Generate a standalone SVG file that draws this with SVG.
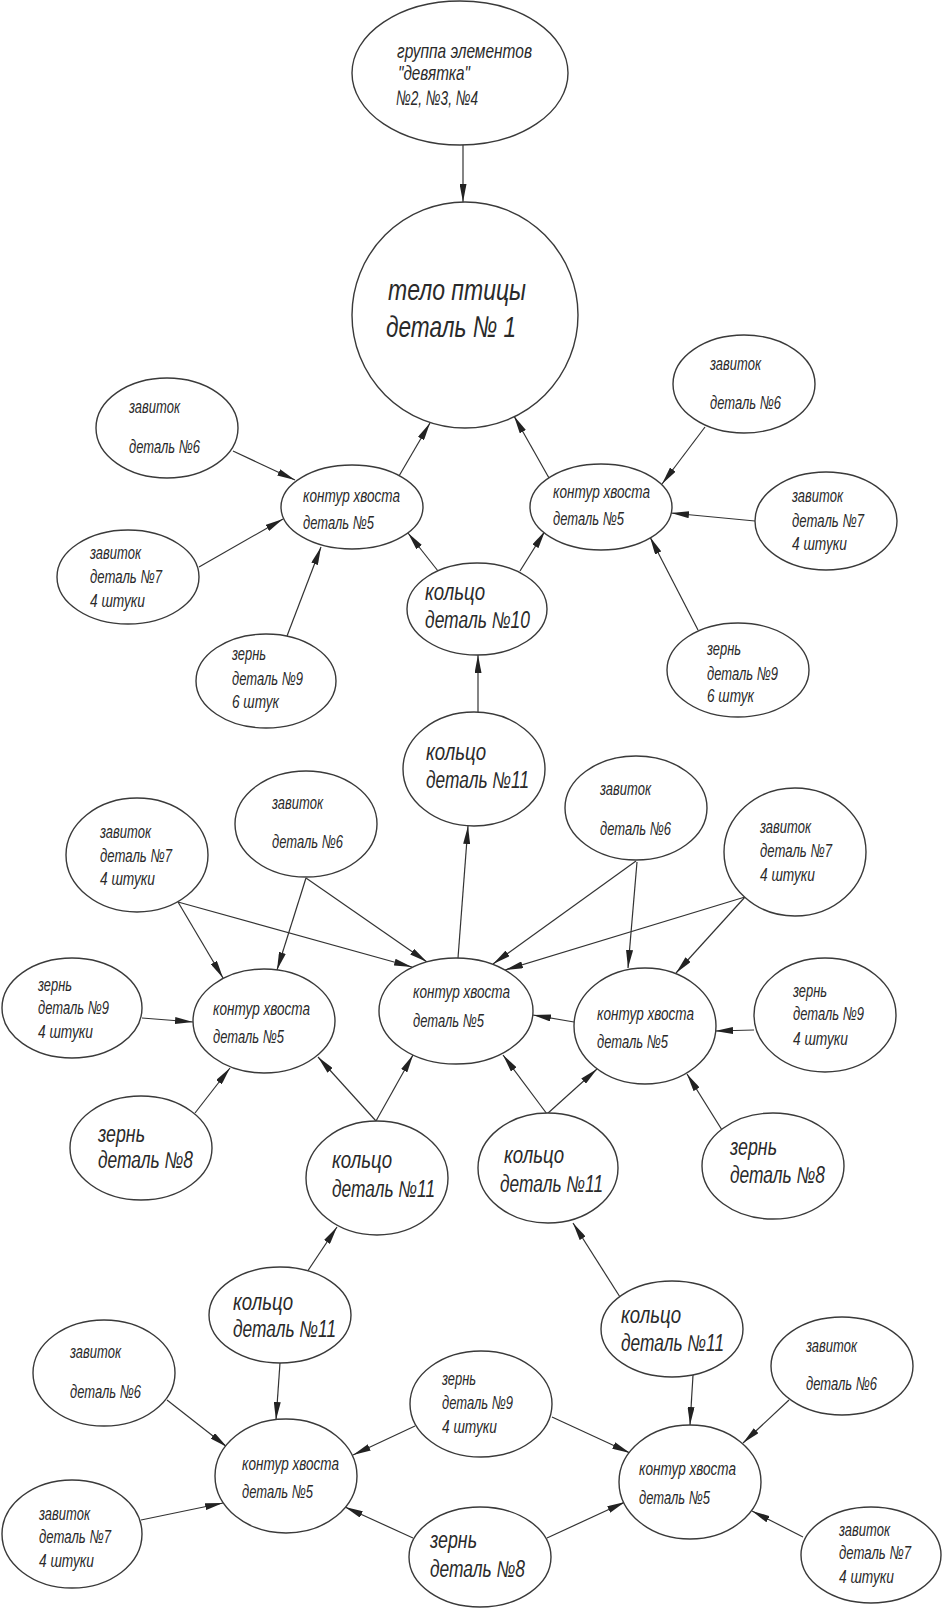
<svg xmlns="http://www.w3.org/2000/svg" width="942" height="1610" viewBox="0 0 942 1610">
<defs>
<marker id="arr" viewBox="0 0 18 7" refX="18" refY="3.5" markerWidth="18" markerHeight="7" markerUnits="userSpaceOnUse" orient="auto">
<path d="M0,0 L18,3.5 L0,7 Z" fill="#222"/>
</marker>
<style>
.n ellipse,.n circle{fill:#fff;stroke:#3a3a3a;stroke-width:1.4}
.n text{font-family:"Liberation Sans","DejaVu Sans",sans-serif;font-style:italic;fill:#2a2a2a}
.s{font-size:19px}
.l{font-size:23px}
.t{font-size:21px}
.b{font-size:30px}
#edges line{stroke:#333;stroke-width:1.2;marker-end:url(#arr)}
</style>
</defs>
<rect width="942" height="1610" fill="#fff"/>
<g id="edges">
<line x1="463" y1="145" x2="463" y2="202"/>
<line x1="233" y1="451" x2="295" y2="480"/>
<line x1="199" y1="567" x2="283" y2="519"/>
<line x1="287" y1="636" x2="321" y2="547"/>
<line x1="399" y1="476" x2="430" y2="423"/>
<line x1="438" y1="571" x2="408" y2="533"/>
<line x1="520" y1="571" x2="545" y2="531"/>
<line x1="549" y1="478" x2="514" y2="416"/>
<line x1="705" y1="427" x2="662" y2="484"/>
<line x1="755" y1="521" x2="671" y2="513"/>
<line x1="698" y1="630" x2="650" y2="537"/>
<line x1="478" y1="712" x2="478" y2="655"/>
<line x1="458" y1="958" x2="468" y2="826"/>
<line x1="178" y1="902" x2="223" y2="978"/>
<line x1="178" y1="902" x2="412" y2="967"/>
<line x1="306" y1="878" x2="277" y2="970"/>
<line x1="306" y1="878" x2="427" y2="962"/>
<line x1="142" y1="1018" x2="193" y2="1022"/>
<line x1="195" y1="1113" x2="230" y2="1068"/>
<line x1="376" y1="1121" x2="318" y2="1057"/>
<line x1="376" y1="1121" x2="413" y2="1055"/>
<line x1="636" y1="861" x2="493" y2="964"/>
<line x1="637" y1="862" x2="628" y2="968"/>
<line x1="745" y1="897" x2="505" y2="970"/>
<line x1="745" y1="897" x2="676" y2="973"/>
<line x1="574" y1="1022" x2="533" y2="1015"/>
<line x1="754" y1="1030" x2="715" y2="1031"/>
<line x1="547" y1="1114" x2="503" y2="1055"/>
<line x1="547" y1="1114" x2="597" y2="1069"/>
<line x1="722" y1="1130" x2="687" y2="1074"/>
<line x1="307" y1="1272" x2="337" y2="1227"/>
<line x1="280" y1="1363" x2="276" y2="1420"/>
<line x1="167" y1="1400" x2="227" y2="1447"/>
<line x1="141" y1="1520" x2="223" y2="1503"/>
<line x1="415" y1="1426" x2="353" y2="1455"/>
<line x1="413" y1="1538" x2="345" y2="1507"/>
<line x1="620" y1="1297" x2="573" y2="1223"/>
<line x1="693" y1="1375" x2="690" y2="1425"/>
<line x1="789" y1="1400" x2="743" y2="1443"/>
<line x1="803" y1="1537" x2="752" y2="1511"/>
<line x1="552" y1="1417" x2="630" y2="1453"/>
<line x1="547" y1="1538" x2="625" y2="1502"/>
</g>

<g id="n1" class="n"><ellipse cx="460" cy="73" rx="108" ry="72"/>
<text class="t" x="397" y="58" textLength="135" lengthAdjust="spacingAndGlyphs">группа элементов</text>
<text class="t" x="398" y="80" textLength="72" lengthAdjust="spacingAndGlyphs">"девятка"</text>
<text class="t" x="396" y="105" textLength="82" lengthAdjust="spacingAndGlyphs">№2, №3, №4</text></g>

<g id="n2" class="n"><circle cx="465" cy="315" r="113"/>
<text class="b" x="388" y="300" textLength="138" lengthAdjust="spacingAndGlyphs">тело птицы</text>
<text class="b" x="386" y="337" textLength="130" lengthAdjust="spacingAndGlyphs">деталь № 1</text></g>

<g id="n3" class="n"><ellipse cx="167" cy="428" rx="71" ry="50"/>
<text class="s" x="129" y="413" textLength="51" lengthAdjust="spacingAndGlyphs">завиток</text>
<text class="s" x="129" y="453" textLength="71" lengthAdjust="spacingAndGlyphs">деталь №6</text></g>

<g id="n4" class="n"><ellipse cx="352" cy="507" rx="71" ry="42"/>
<text class="s" x="303" y="502" textLength="97" lengthAdjust="spacingAndGlyphs">контур хвоста</text>
<text class="s" x="303" y="529" textLength="71" lengthAdjust="spacingAndGlyphs">деталь №5</text></g>

<g id="n5" class="n"><ellipse cx="128" cy="577" rx="71" ry="47"/>
<text class="s" x="90" y="559" textLength="51" lengthAdjust="spacingAndGlyphs">завиток</text>
<text class="s" x="90" y="583" textLength="72" lengthAdjust="spacingAndGlyphs">деталь №7</text>
<text class="s" x="90" y="607" textLength="55" lengthAdjust="spacingAndGlyphs">4 штуки</text></g>

<g id="n6" class="n"><ellipse cx="266" cy="681" rx="70" ry="47"/>
<text class="s" x="232" y="660" textLength="34" lengthAdjust="spacingAndGlyphs">зернь</text>
<text class="s" x="232" y="685" textLength="71" lengthAdjust="spacingAndGlyphs">деталь №9</text>
<text class="s" x="232" y="708" textLength="47" lengthAdjust="spacingAndGlyphs">6 штук</text></g>

<g id="n7" class="n"><ellipse cx="477" cy="609" rx="70" ry="46"/>
<text class="l" x="425" y="600" textLength="60" lengthAdjust="spacingAndGlyphs">кольцо</text>
<text class="l" x="425" y="628" textLength="105" lengthAdjust="spacingAndGlyphs">деталь №10</text></g>

<g id="n8" class="n"><ellipse cx="744" cy="384" rx="71" ry="49"/>
<text class="s" x="710" y="370" textLength="51" lengthAdjust="spacingAndGlyphs">завиток</text>
<text class="s" x="710" y="409" textLength="71" lengthAdjust="spacingAndGlyphs">деталь №6</text></g>

<g id="n9" class="n"><ellipse cx="601" cy="507" rx="71" ry="43"/>
<text class="s" x="553" y="498" textLength="97" lengthAdjust="spacingAndGlyphs">контур хвоста</text>
<text class="s" x="553" y="525" textLength="71" lengthAdjust="spacingAndGlyphs">деталь №5</text></g>

<g id="n10" class="n"><ellipse cx="826" cy="521" rx="71" ry="49"/>
<text class="s" x="792" y="502" textLength="51" lengthAdjust="spacingAndGlyphs">завиток</text>
<text class="s" x="792" y="527" textLength="72" lengthAdjust="spacingAndGlyphs">деталь №7</text>
<text class="s" x="792" y="550" textLength="55" lengthAdjust="spacingAndGlyphs">4 штуки</text></g>

<g id="n11" class="n"><ellipse cx="738" cy="670" rx="71" ry="47"/>
<text class="s" x="707" y="655" textLength="34" lengthAdjust="spacingAndGlyphs">зернь</text>
<text class="s" x="707" y="680" textLength="71" lengthAdjust="spacingAndGlyphs">деталь №9</text>
<text class="s" x="707" y="702" textLength="47" lengthAdjust="spacingAndGlyphs">6 штук</text></g>

<g id="n12" class="n"><ellipse cx="474" cy="769" rx="71" ry="57"/>
<text class="l" x="426" y="760" textLength="60" lengthAdjust="spacingAndGlyphs">кольцо</text>
<text class="l" x="426" y="788" textLength="103" lengthAdjust="spacingAndGlyphs">деталь №11</text></g>

<g id="n13" class="n"><ellipse cx="137" cy="855" rx="71" ry="57"/>
<text class="s" x="100" y="838" textLength="51" lengthAdjust="spacingAndGlyphs">завиток</text>
<text class="s" x="100" y="862" textLength="72" lengthAdjust="spacingAndGlyphs">деталь №7</text>
<text class="s" x="100" y="885" textLength="55" lengthAdjust="spacingAndGlyphs">4 штуки</text></g>

<g id="n14" class="n"><ellipse cx="306" cy="824" rx="71" ry="53"/>
<text class="s" x="272" y="809" textLength="51" lengthAdjust="spacingAndGlyphs">завиток</text>
<text class="s" x="272" y="848" textLength="71" lengthAdjust="spacingAndGlyphs">деталь №6</text></g>

<g id="n15" class="n"><ellipse cx="72" cy="1008" rx="70" ry="50"/>
<text class="s" x="38" y="991" textLength="34" lengthAdjust="spacingAndGlyphs">зернь</text>
<text class="s" x="38" y="1014" textLength="71" lengthAdjust="spacingAndGlyphs">деталь №9</text>
<text class="s" x="38" y="1038" textLength="55" lengthAdjust="spacingAndGlyphs">4 штуки</text></g>

<g id="n16" class="n"><ellipse cx="264" cy="1021" rx="71" ry="52"/>
<text class="s" x="213" y="1015" textLength="97" lengthAdjust="spacingAndGlyphs">контур хвоста</text>
<text class="s" x="213" y="1043" textLength="71" lengthAdjust="spacingAndGlyphs">деталь №5</text></g>

<g id="n17" class="n"><ellipse cx="141" cy="1148" rx="71" ry="52"/>
<text class="l" x="98" y="1142" textLength="47" lengthAdjust="spacingAndGlyphs">зернь</text>
<text class="l" x="98" y="1168" textLength="95" lengthAdjust="spacingAndGlyphs">деталь №8</text></g>

<g id="n18" class="n"><ellipse cx="456" cy="1011" rx="77" ry="53"/>
<text class="s" x="413" y="998" textLength="97" lengthAdjust="spacingAndGlyphs">контур хвоста</text>
<text class="s" x="413" y="1027" textLength="71" lengthAdjust="spacingAndGlyphs">деталь №5</text></g>

<g id="n19" class="n"><ellipse cx="377" cy="1178" rx="71" ry="57"/>
<text class="l" x="332" y="1168" textLength="60" lengthAdjust="spacingAndGlyphs">кольцо</text>
<text class="l" x="332" y="1197" textLength="103" lengthAdjust="spacingAndGlyphs">деталь №11</text></g>

<g id="n20" class="n"><ellipse cx="636" cy="808" rx="71" ry="52"/>
<text class="s" x="600" y="795" textLength="51" lengthAdjust="spacingAndGlyphs">завиток</text>
<text class="s" x="600" y="835" textLength="71" lengthAdjust="spacingAndGlyphs">деталь №6</text></g>

<g id="n21" class="n"><ellipse cx="795" cy="852" rx="71" ry="64"/>
<text class="s" x="760" y="833" textLength="51" lengthAdjust="spacingAndGlyphs">завиток</text>
<text class="s" x="760" y="857" textLength="72" lengthAdjust="spacingAndGlyphs">деталь №7</text>
<text class="s" x="760" y="881" textLength="55" lengthAdjust="spacingAndGlyphs">4 штуки</text></g>

<g id="n22" class="n"><ellipse cx="645" cy="1026" rx="71" ry="58"/>
<text class="s" x="597" y="1020" textLength="97" lengthAdjust="spacingAndGlyphs">контур хвоста</text>
<text class="s" x="597" y="1048" textLength="71" lengthAdjust="spacingAndGlyphs">деталь №5</text></g>

<g id="n23" class="n"><ellipse cx="825" cy="1015" rx="71" ry="57"/>
<text class="s" x="793" y="997" textLength="34" lengthAdjust="spacingAndGlyphs">зернь</text>
<text class="s" x="793" y="1020" textLength="71" lengthAdjust="spacingAndGlyphs">деталь №9</text>
<text class="s" x="793" y="1045" textLength="55" lengthAdjust="spacingAndGlyphs">4 штуки</text></g>

<g id="n24" class="n"><ellipse cx="548" cy="1168" rx="70" ry="55"/>
<text class="l" x="504" y="1163" textLength="60" lengthAdjust="spacingAndGlyphs">кольцо</text>
<text class="l" x="500" y="1192" textLength="103" lengthAdjust="spacingAndGlyphs">деталь №11</text></g>

<g id="n25" class="n"><ellipse cx="773" cy="1166" rx="71" ry="53"/>
<text class="l" x="730" y="1155" textLength="47" lengthAdjust="spacingAndGlyphs">зернь</text>
<text class="l" x="730" y="1183" textLength="95" lengthAdjust="spacingAndGlyphs">деталь №8</text></g>

<g id="n26" class="n"><ellipse cx="280" cy="1315" rx="71" ry="48"/>
<text class="l" x="233" y="1310" textLength="60" lengthAdjust="spacingAndGlyphs">кольцо</text>
<text class="l" x="233" y="1337" textLength="103" lengthAdjust="spacingAndGlyphs">деталь №11</text></g>

<g id="n27" class="n"><ellipse cx="104" cy="1373" rx="71" ry="53"/>
<text class="s" x="70" y="1358" textLength="51" lengthAdjust="spacingAndGlyphs">завиток</text>
<text class="s" x="70" y="1398" textLength="71" lengthAdjust="spacingAndGlyphs">деталь №6</text></g>

<g id="n28" class="n"><ellipse cx="286" cy="1476" rx="71" ry="57"/>
<text class="s" x="242" y="1470" textLength="97" lengthAdjust="spacingAndGlyphs">контур хвоста</text>
<text class="s" x="242" y="1498" textLength="71" lengthAdjust="spacingAndGlyphs">деталь №5</text></g>

<g id="n29" class="n"><ellipse cx="72" cy="1534" rx="70" ry="54"/>
<text class="s" x="39" y="1520" textLength="51" lengthAdjust="spacingAndGlyphs">завиток</text>
<text class="s" x="39" y="1543" textLength="72" lengthAdjust="spacingAndGlyphs">деталь №7</text>
<text class="s" x="39" y="1567" textLength="55" lengthAdjust="spacingAndGlyphs">4 штуки</text></g>

<g id="n30" class="n"><ellipse cx="481" cy="1404" rx="71" ry="53"/>
<text class="s" x="442" y="1385" textLength="34" lengthAdjust="spacingAndGlyphs">зернь</text>
<text class="s" x="442" y="1409" textLength="71" lengthAdjust="spacingAndGlyphs">деталь №9</text>
<text class="s" x="442" y="1433" textLength="55" lengthAdjust="spacingAndGlyphs">4 штуки</text></g>

<g id="n31" class="n"><ellipse cx="480" cy="1557" rx="71" ry="50"/>
<text class="l" x="430" y="1548" textLength="47" lengthAdjust="spacingAndGlyphs">зернь</text>
<text class="l" x="430" y="1577" textLength="95" lengthAdjust="spacingAndGlyphs">деталь №8</text></g>

<g id="n32" class="n"><ellipse cx="672" cy="1329" rx="71" ry="48"/>
<text class="l" x="621" y="1323" textLength="60" lengthAdjust="spacingAndGlyphs">кольцо</text>
<text class="l" x="621" y="1351" textLength="103" lengthAdjust="spacingAndGlyphs">деталь №11</text></g>

<g id="n33" class="n"><ellipse cx="842" cy="1366" rx="71" ry="49"/>
<text class="s" x="806" y="1352" textLength="51" lengthAdjust="spacingAndGlyphs">завиток</text>
<text class="s" x="806" y="1390" textLength="71" lengthAdjust="spacingAndGlyphs">деталь №6</text></g>

<g id="n34" class="n"><ellipse cx="690" cy="1482" rx="71" ry="57"/>
<text class="s" x="639" y="1475" textLength="97" lengthAdjust="spacingAndGlyphs">контур хвоста</text>
<text class="s" x="639" y="1504" textLength="71" lengthAdjust="spacingAndGlyphs">деталь №5</text></g>

<g id="n35" class="n"><ellipse cx="871" cy="1555" rx="70" ry="48"/>
<text class="s" x="839" y="1536" textLength="51" lengthAdjust="spacingAndGlyphs">завиток</text>
<text class="s" x="839" y="1559" textLength="72" lengthAdjust="spacingAndGlyphs">деталь №7</text>
<text class="s" x="839" y="1583" textLength="55" lengthAdjust="spacingAndGlyphs">4 штуки</text></g>
</svg>
